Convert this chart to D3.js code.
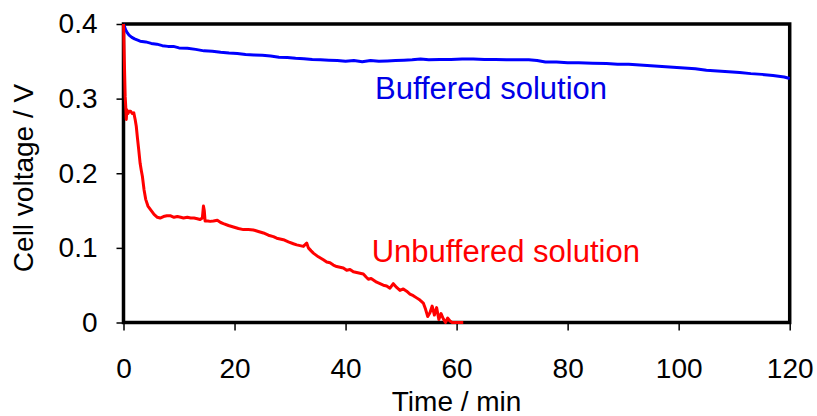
<!DOCTYPE html>
<html>
<head>
<meta charset="utf-8">
<script src="https://cdn.jsdelivr.net/npm/d3@7"></script>
<style>
  body { margin: 0; background: #fff; }
  svg { display: block; font-family: "Liberation Sans", Arial, sans-serif; }
</style>
</head>
<body>
<div id="chart"></div>
<script>
// Zeit in min, Spannung in V
var bufferedData = [
  [0, 0.400], [0.2, 0.396], [0.4, 0.392], [0.7, 0.388], [1.0, 0.385], [1.5, 0.382],
  [2.0, 0.380], [3.0, 0.377], [4.0, 0.376], [5.0, 0.374], [6.0, 0.373], [7.0, 0.371],
  [8.0, 0.370], [9.0, 0.370], [10.0, 0.368], [11.5, 0.3675], [13.0, 0.366], [14.5, 0.364],
  [16.0, 0.3635], [17.5, 0.362], [19.0, 0.361], [20.5, 0.3605], [22.0, 0.359], [23.5, 0.3585],
  [25.0, 0.358], [26.5, 0.357], [28.0, 0.3555], [29.5, 0.355], [31.0, 0.354], [32.5, 0.3535],
  [34.0, 0.3525], [35.5, 0.352], [37.0, 0.3515], [38.5, 0.351], [40.0, 0.350], [41.5, 0.351],
  [43.0, 0.3495], [44.5, 0.351], [46.0, 0.350], [47.5, 0.3505], [49.0, 0.351], [50.5, 0.3515],
  [52.0, 0.352], [53.5, 0.353], [55.0, 0.352], [57.0, 0.3525], [59.0, 0.3525], [61.0, 0.353],
  [63.0, 0.353], [65.0, 0.3525], [67.0, 0.3525], [69.0, 0.352], [71.0, 0.352], [73.0, 0.352],
  [74.5, 0.351], [76.0, 0.349], [78.0, 0.349], [80.0, 0.348], [82.0, 0.348], [84.5, 0.3475],
  [87.0, 0.347], [89.0, 0.346], [91.0, 0.346], [93.0, 0.345], [95.0, 0.344], [97.0, 0.343],
  [99.0, 0.342], [101.0, 0.341], [103.0, 0.340], [105.0, 0.338], [107.0, 0.337], [109.0, 0.336],
  [111.0, 0.335], [113.0, 0.3335], [115.0, 0.3325], [117.0, 0.331], [119.0, 0.329], [120.0, 0.327]
];

var unbufferedData = [
  [0, 0.400], [0.15, 0.350], [0.3, 0.303], [0.4, 0.290], [0.5, 0.272], [0.6, 0.285],
  [0.8, 0.280], [1.0, 0.283], [1.3, 0.283], [1.6, 0.280], [1.85, 0.281], [2.1, 0.272],
  [2.3, 0.263], [2.5, 0.248], [2.75, 0.231], [3.0, 0.213], [3.2, 0.204], [3.4, 0.196],
  [3.7, 0.178], [4.0, 0.165], [4.4, 0.156], [4.9, 0.151], [5.5, 0.145], [6.1, 0.141],
  [6.6, 0.140], [7.2, 0.142], [7.8, 0.143], [8.5, 0.143], [9.1, 0.141], [9.7, 0.142],
  [10.3, 0.141], [10.8, 0.140], [11.5, 0.141], [12.1, 0.140], [12.7, 0.140], [13.3, 0.139],
  [13.8, 0.138], [14.2, 0.140], [14.4, 0.156], [14.55, 0.150], [14.7, 0.136], [15.2, 0.136],
  [15.6, 0.1355], [16.2, 0.136], [16.9, 0.137], [17.5, 0.134], [18.0, 0.1325], [18.9, 0.130],
  [19.8, 0.128], [20.7, 0.126], [21.6, 0.1245], [22.5, 0.1245], [23.4, 0.124], [24.3, 0.122],
  [25.2, 0.120], [26.1, 0.117], [27.0, 0.115], [27.6, 0.113], [28.2, 0.112], [28.8, 0.111],
  [29.7, 0.108], [30.6, 0.1055], [31.2, 0.104], [31.8, 0.103], [32.4, 0.102], [33.0, 0.1065],
  [33.3, 0.100], [33.8, 0.096], [34.2, 0.093], [35.1, 0.088], [36.0, 0.084], [36.6, 0.081],
  [37.2, 0.080], [37.8, 0.077], [38.4, 0.075], [39.0, 0.074], [39.6, 0.073], [40.2, 0.070],
  [40.8, 0.071], [41.4, 0.068], [42.0, 0.067], [42.6, 0.066], [43.2, 0.065], [43.7, 0.061],
  [44.1, 0.058], [44.6, 0.059], [45.0, 0.057], [45.6, 0.054], [46.2, 0.052], [46.8, 0.050],
  [47.4, 0.049], [48.0, 0.046], [48.6, 0.052], [49.2, 0.047], [49.8, 0.043], [50.4, 0.045],
  [51.0, 0.042], [51.6, 0.038], [52.2, 0.036], [52.8, 0.033], [53.4, 0.030], [54.0, 0.026],
  [54.4, 0.018], [54.8, 0.008], [55.2, 0.013], [55.6, 0.022], [56.0, 0.010], [56.4, 0.020],
  [56.8, 0.004], [57.2, 0.012], [57.6, 0.005], [58.0, 0.0], [58.4, 0.006], [58.8, 0.002],
  [59.2, 0.0], [60.0, 0.0], [61.2, 0.0]
];

var xTicks = [0, 20, 40, 60, 80, 100, 120];
var yTicks = [0, 0.1, 0.2, 0.3, 0.4];

// Größe des Graphen
var width = 817, height = 416;
var margin = {top: 24, right: 27.3, bottom: 93.5, left: 123.5};
var innerW = width - margin.left - margin.right,
    innerH = height - margin.top - margin.bottom;

var svg = d3.select("#chart")
  .append("svg")
    .attr("width", width)
    .attr("height", height);

var g = svg.append("g")
  .attr("transform", "translate(" + margin.left + "," + margin.top + ")");

var x = d3.scaleLinear().domain([0, 120]).range([0, innerW]);
var y = d3.scaleLinear().domain([0, 0.4]).range([innerH, 0]);

// Achsen
var xAxis = g.append("g")
  .attr("transform", "translate(0," + innerH + ")")
  .call(d3.axisBottom(x).tickValues(xTicks).tickSize(8).tickPadding(28)
    .tickFormat(d3.format("d")));

var yAxis = g.append("g")
  .call(d3.axisLeft(y).tickValues(yTicks).tickSize(7).tickPadding(19)
    .tickFormat(function(d) { return d === 0 ? "0" : d.toFixed(1); }));

[xAxis, yAxis].forEach(function(a) {
  a.select(".domain").remove();
  a.selectAll(".tick line").attr("stroke", "#000").attr("stroke-width", 1.5);
  a.selectAll(".tick text")
    .attr("fill", "#000")
    .attr("font-size", "28px")
    .attr("font-family", "'Liberation Sans', Arial, sans-serif");
});

// Rahmen
g.append("rect")
  .attr("x", 0).attr("y", 0)
  .attr("width", innerW).attr("height", innerH)
  .attr("fill", "none")
  .attr("stroke", "#000")
  .attr("stroke-width", 3.5);

var line = d3.line()
  .x(function(d) { return x(d[0]); })
  .y(function(d) { return y(d[1]); });

g.append("path")
  .datum(bufferedData)
  .attr("d", line)
  .attr("fill", "none")
  .attr("stroke", "#0000ff")
  .attr("stroke-width", 3)
  .attr("stroke-linejoin", "round");

g.append("path")
  .datum(unbufferedData)
  .attr("d", line)
  .attr("fill", "none")
  .attr("stroke", "#ff0000")
  .attr("stroke-width", 3)
  .attr("stroke-linejoin", "round");

// Beschriftungen
g.append("text")
  .attr("x", x(45.3))
  .attr("y", y(0.299))
  .attr("font-size", "31px")
  .attr("fill", "#0000e6")
  .text("Buffered solution");

g.append("text")
  .attr("x", x(44.7))
  .attr("y", y(0.0815))
  .attr("font-size", "31px")
  .attr("fill", "#ff0000")
  .text("Unbuffered solution");

svg.append("text")
  .attr("x", margin.left + innerW / 2)
  .attr("y", 411)
  .attr("text-anchor", "middle")
  .attr("font-size", "28px")
  .text("Time / min");

svg.append("text")
  .attr("transform", "translate(33,178) rotate(-90)")
  .attr("text-anchor", "middle")
  .attr("font-size", "28px")
  .text("Cell voltage / V");
</script>
</body>
</html>
